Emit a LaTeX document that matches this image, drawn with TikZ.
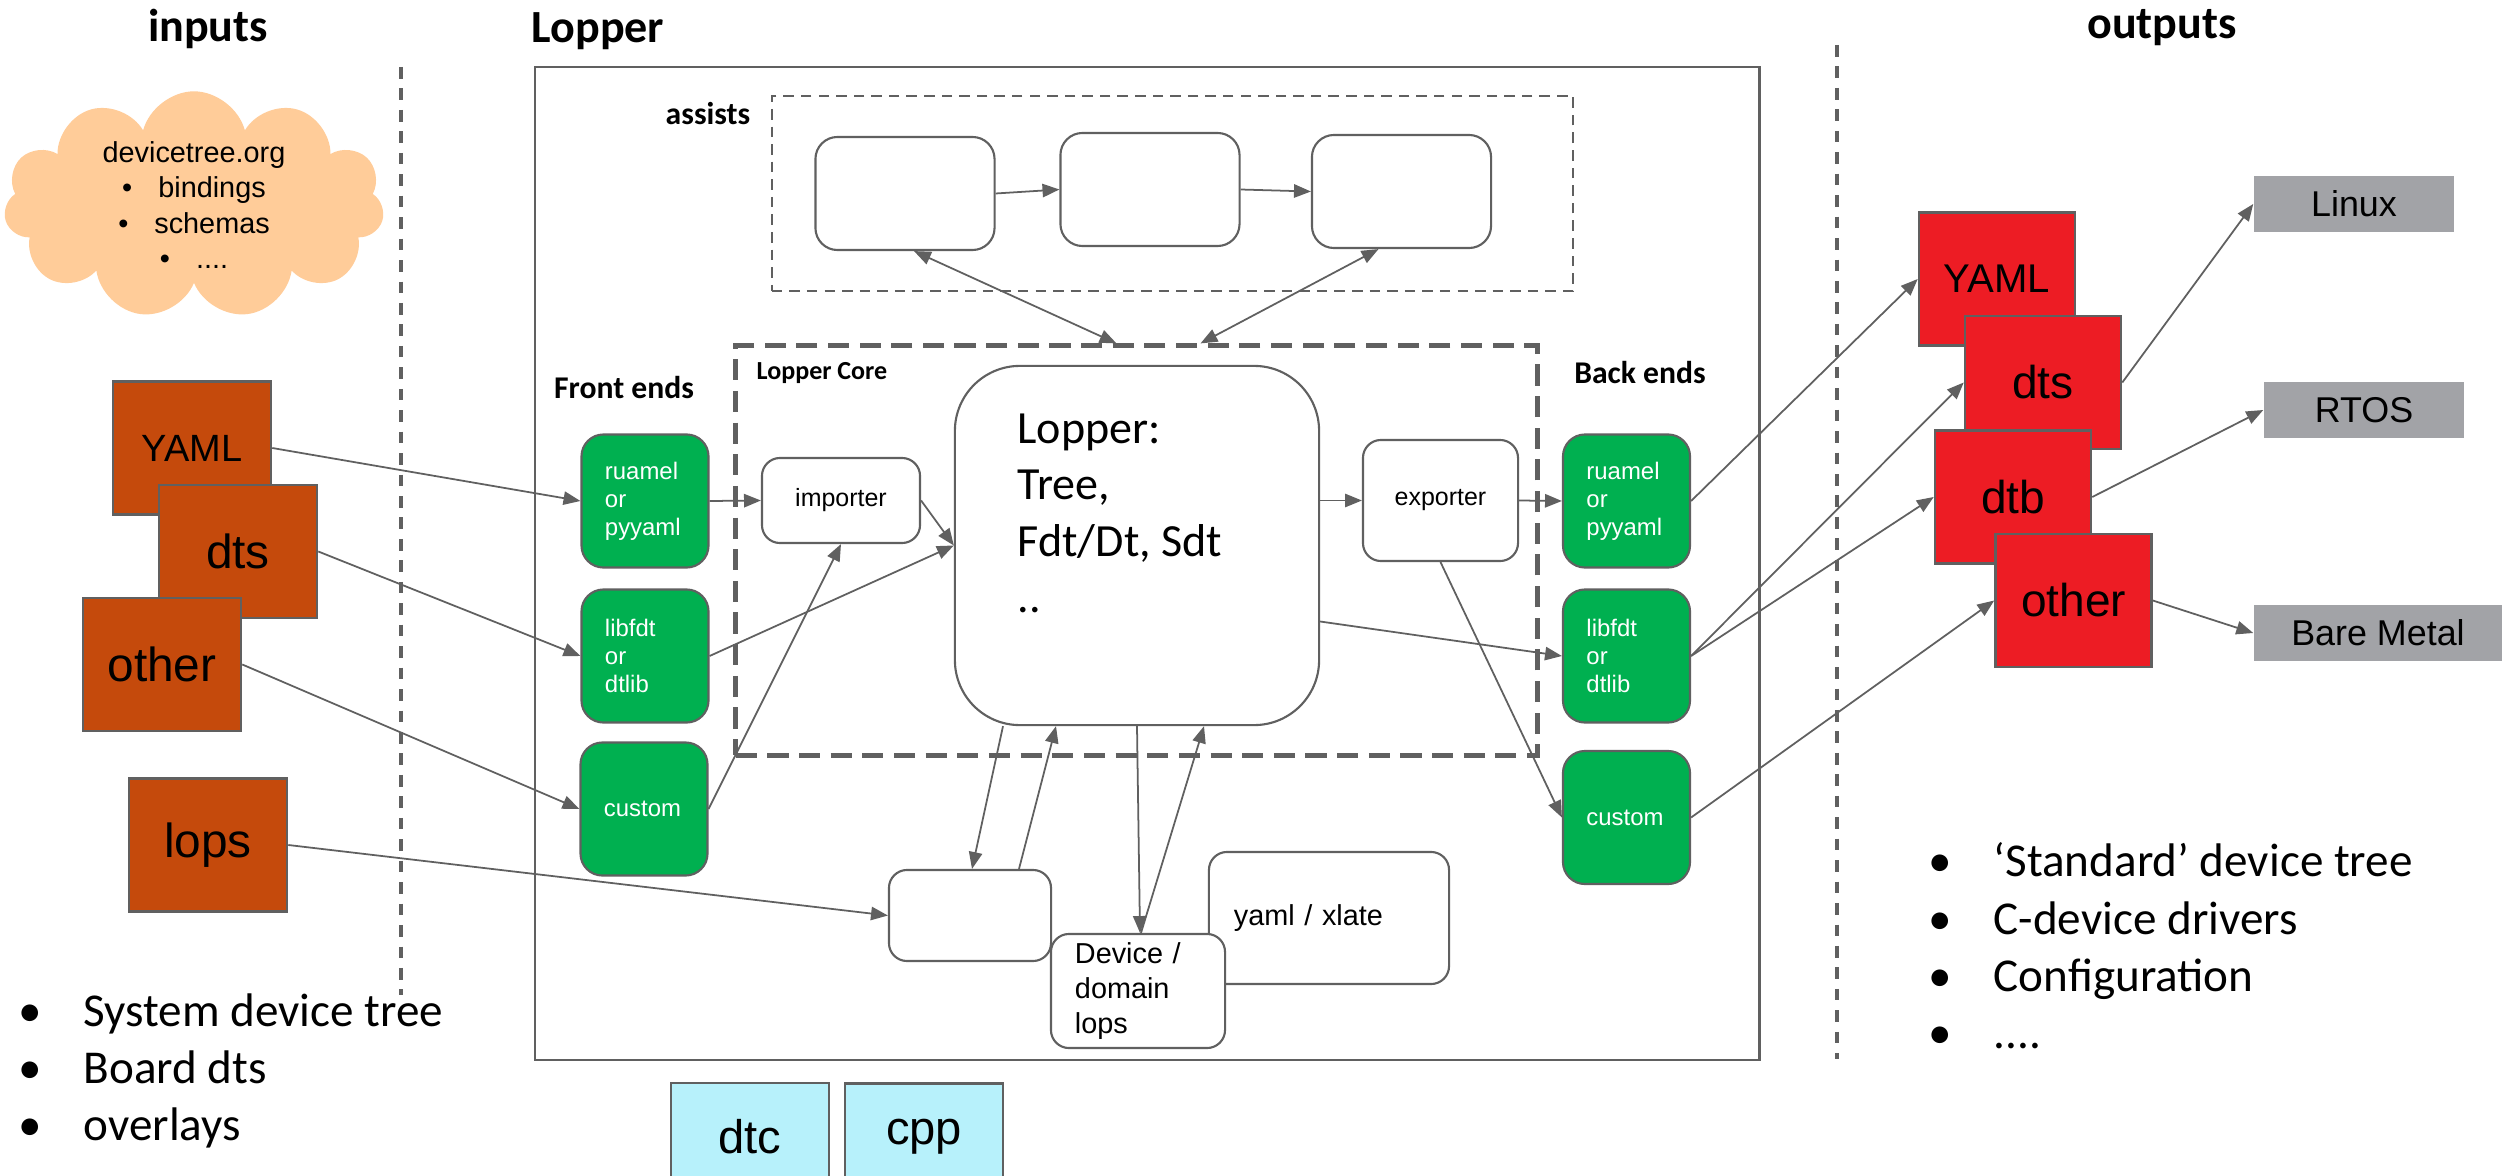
\documentclass[tikz,border=0pt]{standalone}
\usepackage{fontspec}
\setmainfont{Carlito}
\newfontfamily\arialfont{Liberation Sans}
\usetikzlibrary{arrows.meta, shapes.symbols, calc}

\definecolor{linegray}{RGB}{96,96,96}
\definecolor{fegreen}{RGB}{0,176,80}
\definecolor{inorange}{RGB}{197,74,12}
\definecolor{outred}{RGB}{237,28,36}
\definecolor{osgray}{RGB}{162,163,167}
\definecolor{cloudpeach}{RGB}{255,204,153}
\definecolor{toolcyan}{RGB}{183,241,251}

\newcommand{\fsz}[2]{\fontsize{#1}{#2}\selectfont}
\newcommand{\bulletitem}[1]{\makebox[0.655cm][l]{\textbullet}#1}

\begin{document}
\begin{tikzpicture}[x=0.01cm, y=-0.01cm,
    >={Triangle[length=4.8pt, width=3.8pt]},
    conn/.style={draw=linegray, line width=0.5pt},
    headtext/.style={inner sep=0pt, font=\bfseries\fsz{13.1}{15}},
    sublabel/.style={inner sep=0pt, font=\bfseries\fsz{9}{11}},
    sepline/.style={draw=linegray, line width=0.9pt, dash pattern=on 3.3pt off 2.8pt},
    inbox/.style={draw=linegray, line width=0.7pt, fill=inorange, minimum width=1.58cm, minimum height=1.33cm, inner sep=0pt, font=\arialfont\fsz{13.6}{16}},
    outbox/.style={inbox, fill=outred, minimum width=1.56cm, font=\arialfont\fsz{13.1}{16}},
    toolbox/.style={inbox, fill=toolcyan, minimum height=1.07cm, font=\arialfont\fsz{13.4}{16}},
    osbox/.style={fill=osgray, minimum width=2cm, minimum height=0.55cm, inner sep=0pt, font=\arialfont\fsz{10.2}{12}},
    febox/.style={draw=linegray, line width=0.6pt, fill=fegreen, rounded corners=0.22cm, minimum width=1.27cm, minimum height=1.33cm, inner sep=0pt, text=white, text width=0.8cm, align=left, font=\arialfont\fsz{6.8}{8}},
    wbox/.style={draw=linegray, line width=0.6pt, fill=white, rounded corners=0.18cm, inner sep=0pt, font=\arialfont\fsz{7.1}{9}},
    assistbox/.style={wbox, rounded corners=0.22cm, minimum width=1.79cm, minimum height=1.13cm},
    listtext/.style={inner sep=0pt, anchor=west, align=left, font=\fsz{13.4}{16.3}}]

\useasboundingbox (0,0) rectangle (2502,1176);
\clip (0,0) rectangle (2502,1176);
\fill[white] (0,0) rectangle (2502,1176);

\node[headtext] (inputs) at (208,29) {inputs};
\node[headtext] (loppertitle) at (598,31) {Lopper};
\node[headtext] (outputs) at (2162,28) {outputs};

\draw[sepline] (401,67) -- (401,995);
\draw[sepline] (1837,45) -- (1837,1059);

\node[cloud, cloud puffs=11, cloud ignores aspect, fill=cloudpeach, minimum width=3.8cm, minimum height=2.25cm, inner sep=0pt, align=center, font=\arialfont\fsz{8.2}{10}] (cloud) at (194,205)
    {devicetree.org\\\textbullet\hspace{0.26cm}bindings\\\textbullet\hspace{0.26cm}schemas\\\textbullet\hspace{0.26cm}....};

\node[inbox, font=\arialfont\fsz{10.8}{13}] (iyaml) at (192,448) {YAML};
\node[inbox] (idts) at (238,551.5) {dts};
\node[inbox] (iother) at (162,664.5) {other};
\node[inbox] (ilops) at (208,845) {lops};

\node[listtext] (inlist) at (17.5,1071) {\bulletitem{System device tree}\\\bulletitem{Board dts}\\\bulletitem{overlays}};

\node[draw=linegray, line width=0.65pt, minimum width=12.24cm, minimum height=9.93cm] (lopperframe) at (1147,563.5) {};
\node[draw=linegray, line width=0.5pt, dash pattern=on 3pt off 2pt, minimum width=8.01cm, minimum height=1.95cm] (assists) at (1172.5,193.5) {};
\node[sublabel] (assistslbl) at (708,114) {assists};
\node[assistbox] (a1) at (905,193.5) {};
\node[assistbox] (a2) at (1150,189.5) {};
\node[assistbox] (a3) at (1401.5,191.5) {};

\node[draw=linegray, line width=1.4pt, dash pattern=on 6pt off 3pt, minimum width=8.01cm, minimum height=4.09cm] (core) at (1136.5,550.5) {};
\node[sublabel, font=\bfseries\fsz{7.4}{9}] (corelbl) at (822,373) {Lopper Core};
\node[sublabel] (frontlbl) at (624,388) {Front ends};
\node[sublabel] (backlbl) at (1640,373) {Back ends};

\node[febox] (fe1) at (645,501) {ruamel\\or\\pyyaml};
\node[febox] (fe2) at (645,656) {libfdt\\or\\dtlib};
\node[febox] (fe3) at (644,809) {custom};
\node[febox] (be1) at (1626.5,501) {ruamel\\or\\pyyaml};
\node[febox] (be2) at (1626.5,656) {libfdt\\or\\dtlib};
\node[febox] (be3) at (1626.5,817.5) {custom};

\node[wbox, minimum width=1.58cm, minimum height=0.85cm] (importer) at (841,500.5) {importer};
\node[wbox, minimum width=1.55cm, minimum height=1.21cm] (exporter) at (1440.5,500.5) {exporter};
\node[wbox, rounded corners=0.65cm, minimum width=3.64cm, minimum height=3.59cm] (lopper) at (1137,545.5) {};
\node[inner sep=0pt, anchor=north west, align=left, font=\fsz{13.1}{16.1}] (loppertext) at ($(lopper.north west)+(63,48)$) {Lopper:\\Tree,\\Fdt/Dt, Sdt\\..};

\node[wbox, minimum width=2.4cm, minimum height=1.32cm, text width=1.9cm, align=left, font=\arialfont\fsz{8.2}{10}] (yamlbox) at (1329,918) {yaml / xlate};
\node[wbox, minimum width=1.62cm, minimum height=0.91cm] (lopsbox) at (970,915.5) {};
\node[wbox, minimum width=1.74cm, minimum height=1.14cm, text width=1.26cm, align=left, font=\arialfont\fsz{8.2}{10}] (devbox) at (1138,991) {Device /\\domain\\lops};

\node[toolbox] (dtc) at (750,1136.5) {dtc};
\node[toolbox] (cpp) at (924,1137) {cpp};

\node[outbox, font=\arialfont\fsz{11.4}{14}] (oyaml) at (1997,279) {YAML};
\node[outbox] (odts) at (2043,382.5) {dts};
\node[outbox] (odtb) at (2013,497) {dtb};
\node[outbox] (oother) at (2073.5,600.5) {other};

\node[osbox] (linux) at (2354,204) {Linux};
\node[osbox] (rtos) at (2364,410) {RTOS};
\node[osbox, minimum width=2.48cm] (bare) at (2378,633) {Bare Metal};

\node[listtext] (outlist) at (1927.5,946) {\bulletitem{‘Standard’ device tree}\\\bulletitem{C-device drivers}\\\bulletitem{Configuration}\\\bulletitem{....}};

\draw[conn, ->] (a1.east) -- (a2.west);
\draw[conn, ->] (a2.east) -- (a3.west);
\draw[conn, <->] ($(a1.south)+(9,0)$) -- ($(core.north)+(-20,0)$);
\draw[conn, <->] ($(a3.south)+(-23,0)$) -- ($(core.north)+(64,0)$);

\draw[conn, ->] (iyaml.east) -- (fe1.west);
\draw[conn, ->] (idts.east) -- (fe2.west);
\draw[conn, ->] (iother.east) -- (fe3.west);
\draw[conn, ->] (ilops.east) -- (lopsbox.west);

\draw[conn, ->] (fe1.east) -- (importer.west);
\draw[conn, ->] (fe2.east) -- (lopper.west);
\draw[conn, ->] (fe3.east) -- (importer.south);
\draw[conn, ->] (importer.east) -- (lopper.west);

\draw[conn, ->] (lopper.east |- exporter.west) -- (exporter.west);
\draw[conn, ->] (exporter.east) -- (be1.west);
\draw[conn, ->] ($(lopper.east)+(0,76)$) -- (be2.west);
\draw[conn, ->] (exporter.south) -- (be3.west);

\draw[conn, ->] ($(lopper.south)+(-134,0)$) -- ($(lopsbox.north)+(2,0)$);
\draw[conn, ->] ($(lopsbox.north)+(49,0)$) -- ($(lopper.south)+(-81,0)$);
\draw[conn, ->] (lopper.south) -- ($(devbox.north)+(2,0)$);
\draw[conn, ->] ($(devbox.north)+(3,0)$) -- ($(lopper.south)+(67,0)$);

\draw[conn, ->] (be1.east) -- (oyaml.west);
\draw[conn, ->] (be2.east) -- (odts.west);
\draw[conn, ->] (be2.east) -- (odtb.west);
\draw[conn, ->] (be3.east) -- (oother.west);

\draw[conn, ->] (odts.east) -- (linux.west);
\draw[conn, ->] (odtb.east) -- (rtos.west);
\draw[conn, ->] (oother.east) -- (bare.west);
\end{tikzpicture}
\end{document}
